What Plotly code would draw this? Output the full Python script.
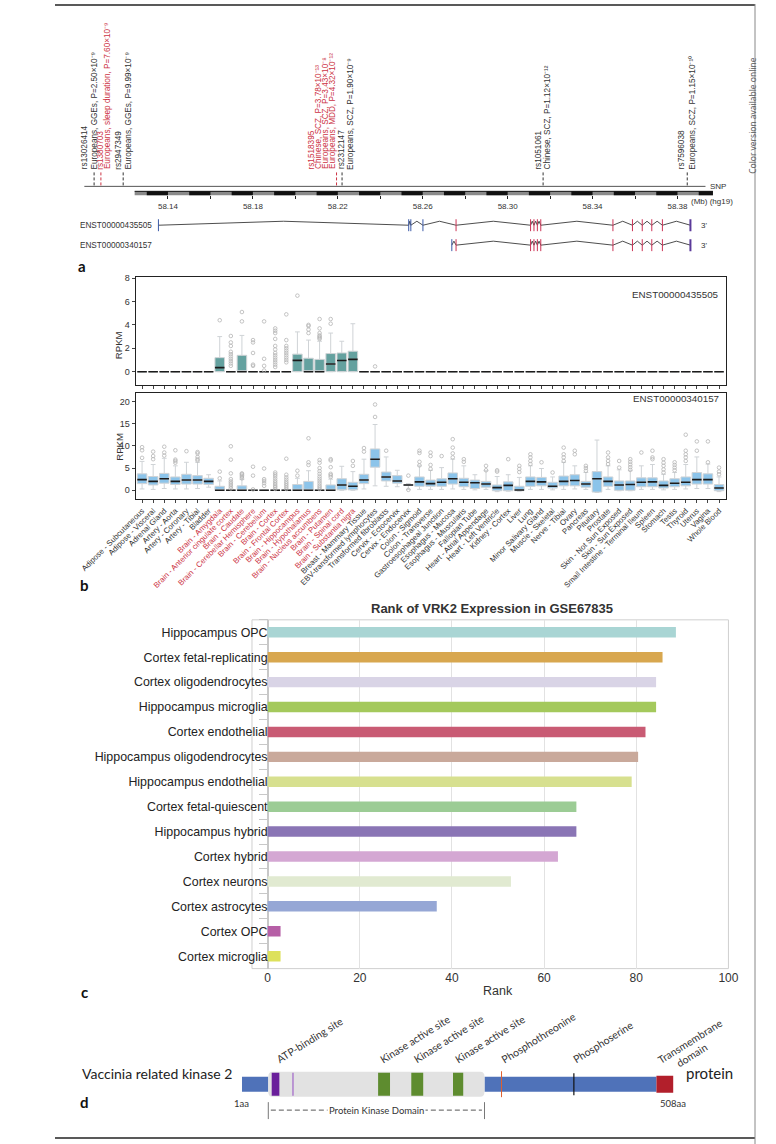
import plotly.graph_objects as go

W, H = 776, 1144


def px_x(p):
    return p / W


def px_y(p):
    return 1 - p / H


RED = "#cc3344"
DARK = "#333333"

# ======================= Panel a data =======================
snp_ids = ["rs13026414", "rs1380703", "rs2947349", "rs1518395", "rs2312147", "rs1051061", "rs7596038"]
snp_mb = [58.1052, 58.1084, 58.1189, 58.2194, 58.2220, 58.3167, 58.3846]
snp_assoc = [
    ["Europeans, GGEs, P=2.50×10⁻⁹"],
    ["Europeans, sleep duration, P=7.60×10⁻⁹"],
    ["Europeans, GGEs, P=9.99×10⁻⁹"],
    ["Chinese, SCZ, P=3.78×10⁻¹³", "Europeans, SCZ, P=3.43×10⁻⁸", "Europeans, MDD, P=4.32×10⁻¹²"],
    ["Europeans, SCZ, P=1.90×10⁻⁹"],
    ["Chinese, SCZ, P=1.12×10⁻¹²"],
    ["Europeans, SCZ, P=1.15×10⁻¹⁰"],
]
snp_is_red = [False, True, False, True, False, False, False]

mb_tick_vals = [58.14, 58.18, 58.22, 58.26, 58.30, 58.34, 58.38]
mb_tick_text = ["58.14", "58.18", "58.22", "58.26", "58.30", "58.34", "58.38"]
mb_minor_ticks = [58.16, 58.20, 58.24, 58.28, 58.32, 58.36]
ruler_mb = [58.1243, 58.3967]
snp_track_mb = [58.1006, 58.3932]

tx_names = ["ENST00000435505", "ENST00000340157"]
tx1_exon_mb = [58.1355, 58.2534, 58.2544, 58.2601, 58.2757, 58.3108, 58.3124, 58.3140, 58.3156,
               58.3496, 58.3588, 58.3634, 58.3679, 58.3729, 58.3861]
tx1_exon_kind = ["utr", "utr", "utr", "utr", "cds", "cds", "cds", "cds", "cds",
                 "cds", "cds", "cds", "cds", "cds", "end"]
tx2_exon_mb = [58.2737, 58.2757, 58.3108, 58.3124, 58.3140, 58.3156,
               58.3496, 58.3588, 58.3634, 58.3679, 58.3729, 58.3861]
tx2_exon_kind = ["utr", "cds", "cds", "cds", "cds", "cds",
                 "cds", "cds", "cds", "cds", "cds", "end"]

# ======================= Panel b data =======================
tissues = [
    "Adipose - Subcutaneous", "Adipose - Visceral", "Adrenal Gland", "Artery - Aorta", "Artery - Coronary",
    "Artery - Tibial", "Bladder", "Brain - Amygdala", "Brain - Anterior cingulate cortex", "Brain - Caudate",
    "Brain - Cerebellar Hemisphere", "Brain - Cerebellum", "Brain - Cortex", "Brain - Frontal Cortex",
    "Brain - Hippocampus", "Brain - Hypothalamus", "Brain - Nucleus accumbens", "Brain - Putamen",
    "Brain - Spinal cord", "Brain - Substantia nigra", "Breast - Mammary Tissue", "EBV-transformed lymphocytes",
    "Transformed fibroblasts", "Cervix - Ectocervix", "Cervix - Endocervix", "Colon - Sigmoid",
    "Colon - Transverse", "Gastroesophageal Junction", "Esophagus - Mucosa", "Esophagus - Muscularis",
    "Fallopian Tube", "Heart - Atrial Appendage", "Heart - Left Ventricle", "Kidney - Cortex", "Liver", "Lung",
    "Minor Salivary Gland", "Muscle - Skeletal", "Nerve - Tibial", "Ovary", "Pancreas", "Pituitary", "Prostate",
    "Skin - Not Sun Exposed", "Skin - Sun Exposed", "Small Intestine - Terminal Ileum", "Spleen", "Stomach",
    "Testis", "Thyroid", "Uterus", "Vagina", "Whole Blood",
]

# ENST00000435505 (top)
top_q1 = [0, 0, 0, 0, 0, 0, 0, 0, 0, 0, 0, 0, 0, 0, 0, 0, 0, 0, 0, 0, 0, 0, 0, 0, 0, 0, 0,
          0, 0, 0, 0, 0, 0, 0, 0, 0, 0, 0, 0, 0, 0, 0, 0, 0, 0, 0, 0, 0, 0, 0, 0, 0, 0]
top_med = [0, 0, 0, 0, 0, 0, 0, 0.35, 0, 0, 0, 0, 0, 0, 0.97, 0, 0, 0.65, 0.95, 1.05, 0, 0, 0, 0, 0, 0, 0,
           0, 0, 0, 0, 0, 0, 0, 0, 0, 0, 0, 0, 0, 0, 0, 0, 0, 0, 0, 0, 0, 0, 0, 0, 0, 0]
top_q3 = [0, 0, 0, 0, 0, 0, 0, 1.2, 0, 1.4, 0, 0, 0, 0, 1.5, 1.15, 1.05, 1.55, 1.6, 1.75, 0, 0, 0, 0, 0, 0, 0,
          0, 0, 0, 0, 0, 0, 0, 0, 0, 0, 0, 0, 0, 0, 0, 0, 0, 0, 0, 0, 0, 0, 0, 0, 0, 0]
top_lo = [0, 0, 0, 0, 0, 0, 0, 0, 0, 0, 0, 0, 0, 0, 0, 0, 0, 0, 0, 0, 0, 0, 0, 0, 0, 0, 0,
          0, 0, 0, 0, 0, 0, 0, 0, 0, 0, 0, 0, 0, 0, 0, 0, 0, 0, 0, 0, 0, 0, 0, 0, 0, 0]
top_hi = [0, 0, 0, 0, 0, 0, 0, 3.0, 0, 3.1, 0, 0, 0, 0, 3.4, 2.7, 2.6, 3.3, 2.6, 4.1, 0, 0, 0, 0, 0, 0, 0,
          0, 0, 0, 0, 0, 0, 0, 0, 0, 0, 0, 0, 0, 0, 0, 0, 0, 0, 0, 0, 0, 0, 0, 0, 0, 0]
top_out = [[], [], [], [], [], [], [], [4.4],
           [0.5, 0.7, 0.9, 1.1, 1.3, 1.5, 1.7, 2.2, 2.5, 3.05],
           [4.3, 5.1], [0.5, 0.6, 1.6, 2.5, 2.7], [0.1, 0.5, 1.1, 4.3],
           [0.4, 0.6, 0.8, 1.0, 1.2, 1.4, 1.6, 1.9, 2.2, 2.8, 3.3, 3.5, 3.7],
           [0.8, 1.0, 1.2, 1.4, 1.6, 1.8, 2.0, 2.2, 2.7, 4.9],
           [6.5], [3.3, 3.6, 3.9, 4.0], [2.8, 2.9, 3.0, 3.1, 3.3, 3.7, 4.5], [4.1, 4.5], [], [], [], [0.45],
           [], [], [], [], [], [], [], [], [], [], [], [], [], [], [], [], [], [], [], [], [], [], [], [], [],
           [], [], [], [], [], []]

# ENST00000340157 (bottom)
bot_q1 = [1.5, 1.2, 1.6, 1.3, 1.4, 1.4, 1.3, 0, 0, 0, 0, 0, 0, 0, 0, 0, 0, 0, 0.1, 0.1, 1.5, 5.2, 2.1, 1.6, 1.1,
          0.9, 0.9, 0.9, 1.4, 0.8, 0.4, 0.7, -0.1, -0.1, -0.1, 0.9, 1.0, 0.5, 1.0, 1.0, 0.7, -0.4, 0.9, 0.0,
          0.0, 0.8, 0.8, 0.5, 0.8, 1.0, 1.4, 1.4, -0.1]
bot_med = [2.4, 2.0, 2.6, 2.0, 2.3, 2.3, 2.0, 0, 0, 0, 0, 0, 0, 0, 0, 0, 0, 0, 1.2, 0.9, 2.3, 7.0, 3.0, 2.1, 1.2,
           1.9, 1.5, 1.8, 2.6, 1.8, 1.7, 1.4, 0.6, 1.1, 0.05, 2.0, 1.9, 0.9, 2.0, 2.2, 1.4, 2.6, 2.0, 1.2,
           1.3, 1.8, 1.9, 1.1, 1.6, 1.8, 2.4, 2.4, 0.5]
bot_q3 = [3.7, 3.1, 3.8, 3.0, 3.6, 3.3, 2.7, 0.9, 0.05, 1.0, 0, 0, 0.05, 0.05, 1.3, 2.0, 0, 1.2, 2.6, 1.8, 3.6,
          9.3, 4.1, 3.3, 1.3, 3.0, 2.3, 2.6, 3.9, 2.7, 2.3, 2.0, 1.2, 1.9, 0.9, 3.0, 2.9, 1.8, 3.2, 3.5, 2.0,
          4.2, 3.0, 2.1, 2.1, 2.8, 2.8, 2.1, 2.6, 3.0, 4.0, 3.7, 1.3]
bot_lo = [0.3, 0.2, 0.4, 0.3, 0.3, 0.4, 0.7, 0, 0, 0, 0, 0, 0, 0, 0, 0, 0, 0, 0, 0, 0.3, 1.0, 0.9, 0.8, 0.2,
          0.2, 0.2, 0.2, 0.3, 0.2, 0.1, 0.2, -0.3, -0.2, -0.2, 0.2, 0.2, 0.1, 0.2, 0.3, 0.2, -0.5, 0.2, -0.1,
          -0.1, 0.2, 0.2, 0.1, 0.2, 0.3, 0.4, 0.4, -0.3]
bot_hi = [6.5, 5.8, 7.2, 5.5, 6.3, 6.3, 3.5, 2.1, 0.1, 2.4, 0, 0, 0.1, 0.1, 2.7, 4.4, 0, 2.5, 5.4, 4.2, 7.0,
          14.8, 7.5, 4.5, 1.5, 5.5, 4.5, 5.1, 7.0, 5.5, 3.5, 4.4, 3.1, 3.5, 2.9, 5.5, 4.9, 3.0, 6.3, 5.5, 4.0,
          11.3, 5.5, 4.6, 4.4, 5.5, 5.8, 3.6, 4.0, 5.8, 7.5, 5.9, 3.0]
bot_out = [[7.3, 9.0, 9.7], [7.0, 7.7, 8.7], [7.8, 8.5, 9.8], [6.2, 6.6, 6.9, 9.0], [8.8],
           [6.7, 7.0, 7.5, 8.3, 8.6], [], [2.7, 4.2], [0.4, 0.8, 1.2, 1.6, 2.0, 2.5, 3.8, 6.9, 9.9],
           [2.7, 3.0, 3.3, 3.6, 3.8], [0.2, 3.3, 5.3], [1.0, 1.6, 2.1, 2.5, 4.9],
           [0.3, 0.7, 1.0, 1.4, 1.8, 2.2, 2.7, 3.2, 3.6, 4.0], [0.3, 0.7, 1.1, 1.5, 1.9, 2.4, 2.9, 3.5, 7.1],
           [3.3, 4.4], [5.7, 6.3, 11.7], [0.3, 0.7, 1.1, 1.6, 2.1, 2.6, 3.1, 3.7, 4.3, 5.0, 6.2, 6.8],
           [3.0, 3.4, 3.7, 5.2, 6.7, 7.0], [], [5.5, 6.6], [8.7, 9.5], [16.5, 19.3], [8.9], [], [0.1, 3.3],
           [5.6, 6.4, 8.4, 8.9], [4.8, 5.7, 7.7, 8.5], [7.7], [7.4, 8.3, 9.6, 11.5], [6.4, 7.0], [],
           [4.5, 5.5], [4.2, 4.5], [7.0], [4.1, 4.8, 5.5], [5.9, 6.6, 7.4, 8.1], [6.3], [4.0],
           [6.6, 7.4, 8.1, 9.6], [8.1, 8.9], [4.4, 5.0, 5.5], [], [5.9, 6.6, 7.4, 8.5], [5.1, 6.6],
           [4.6, 5.2, 5.8, 6.4, 7.0], [8.5], [7.0, 7.4, 8.9], [4.0, 4.7, 5.5, 6.2, 7.0], [4.5, 5.1, 5.7, 6.3],
           [6.6, 7.4, 8.1, 8.9, 12.5], [8.9, 11.0], [6.3, 11.0], [3.6, 4.2, 5.1]]

# ======================= Panel c data =======================
cell_types = ["Hippocampus OPC", "Cortex fetal-replicating", "Cortex oligodendrocytes", "Hippocampus microglia",
              "Cortex endothelial", "Hippocampus oligodendrocytes", "Hippocampus endothelial",
              "Cortex fetal-quiescent", "Hippocampus hybrid", "Cortex hybrid", "Cortex neurons",
              "Cortex astrocytes", "Cortex OPC", "Cortex microglia"]
rank_values = [88.6, 85.7, 84.3, 84.3, 82.0, 80.4, 79.0, 67.0, 67.0, 63.0, 52.8, 36.7, 2.8, 2.8]
bar_colors = ["#a9d5d4", "#d8a74f", "#d9d4e6", "#a4c95c", "#c95b74", "#c9a99b", "#d7e08f",
              "#9ccc95", "#8a75b5", "#d4a7d3", "#e1ead1", "#96a7d5", "#b65fa6", "#dde15b"]
rank_ticks = [0, 20, 40, 60, 80, 100]

# ======================= Panel d data =======================
protein_length = 508
kinase_domain_aa = [32, 286]
atp_site_aa = [36, 45]
atp_line_aa = 61
active_site_start_aa = [161, 200, 249]
active_site_end_aa = [175, 214, 261]
phospho_thr_aa = 306
phospho_ser_aa = 391
transmembrane_aa = [488, 508]
feature_labels = ["ATP-binding site", "Kinase active site", "Kinase active site", "Kinase active site",
                  "Phosphothreonine", "Phosphoserine", "Transmembrane"]
feature_label_aa = [36, 158, 197, 246, 300, 384, 484]

# ======================= figure =======================
fig = go.Figure()

# ---------- Panel a ----------
Y_TEXT_BOTTOM, Y_SNP, Y_RULER = 167, 183, 190
Y_TX = [222, 242]
EXON_COL = {"utr": "#3b5aa8", "cds": "#cc3355", "end": "#5b3a9a"}

fig.add_trace(go.Scatter(x=snp_track_mb, y=[Y_SNP, Y_SNP], mode="lines", line=dict(color="#555", width=1),
                         xaxis="x", yaxis="y", hoverinfo="skip"))
fig.add_trace(go.Scatter(x=ruler_mb, y=[Y_RULER, Y_RULER], mode="lines", line=dict(color="#8a8a8a", width=4),
                         xaxis="x", yaxis="y", hoverinfo="skip"))
seg_x, seg_y = [], []
k = int(round(ruler_mb[0] * 100))
while k / 100 < ruler_mb[1]:
    if k % 2 == 1:
        a = max(k / 100, ruler_mb[0])
        b = min((k + 1) / 100, ruler_mb[1])
        seg_x += [a, b, None]
        seg_y += [Y_RULER, Y_RULER, None]
    k += 1
fig.add_trace(go.Scatter(x=seg_x, y=seg_y, mode="lines", line=dict(color="#111", width=4),
                         xaxis="x", yaxis="y", hoverinfo="skip"))
fig.add_trace(go.Scatter(x=ruler_mb, y=[Y_RULER - 2, Y_RULER - 2], mode="lines", line=dict(color="#111", width=1),
                         xaxis="x", yaxis="y", hoverinfo="skip"))

snp_col_dx = [[-9.4, 0], [0, 7.3], [-4.3, 5], [-25, -18, -11, -4], [0, 8.4], [-4.4, 4], [-5, 5]]
for i, sid in enumerate(snp_ids):
    col = RED if snp_is_red[i] else DARK
    fig.add_trace(go.Scatter(x=[snp_mb[i], snp_mb[i]], y=[Y_TEXT_BOTTOM + 2, Y_SNP], mode="lines",
                             line=dict(color=col, width=1, dash="3px,2px"), xaxis="x", yaxis="y",
                             hoverinfo="skip"))
    lines = [sid] + snp_assoc[i]
    for j, t in enumerate(lines):
        fig.add_annotation(x=snp_mb[i], y=Y_TEXT_BOTTOM, xref="x", yref="y", text=t, showarrow=False,
                           textangle=-90, xanchor="center", yanchor="bottom", xshift=snp_col_dx[i][j],
                           borderpad=0, font=dict(size=8.2, color=col))

for exons, kinds, y0 in [(tx1_exon_mb, tx1_exon_kind, Y_TX[0]), (tx2_exon_mb, tx2_exon_kind, Y_TX[1])]:
    ix, iy = [], []
    for a, b in zip(exons[:-1], exons[1:]):
        ix += [a, (a + b) / 2, b]
        iy += [y0, y0 - 4, y0]
    fig.add_trace(go.Scatter(x=ix, y=iy, mode="lines", line=dict(color="#3a3a3a", width=0.9),
                             xaxis="x", yaxis="y", hoverinfo="skip"))
    for kind in ["utr", "cds", "end"]:
        ex, ey = [], []
        for xv, kd in zip(exons, kinds):
            if kd == kind:
                ex += [xv, xv, None]
                ey += [y0 - 6, y0 + 6, None]
        if ex:
            fig.add_trace(go.Scatter(x=ex, y=ey, mode="lines",
                                     line=dict(color=EXON_COL[kind], width=2 if kind == "end" else 1),
                                     xaxis="x", yaxis="y", hoverinfo="skip"))
    fig.add_annotation(x=exons[-1], y=y0, xref="x", yref="y", text="3'", showarrow=False, xanchor="left",
                       xshift=9, font=dict(size=8, color=DARK))

for name, y0 in zip(tx_names, Y_TX):
    fig.add_annotation(x=px_x(25), y=y0, xref="paper", yref="y", text=name, showarrow=False, xanchor="left",
                       font=dict(size=8.2, color=DARK))
fig.add_annotation(x=snp_track_mb[1], y=Y_SNP, xref="x", yref="y", text="SNP", showarrow=False,
                   xanchor="left", xshift=3, font=dict(size=8, color=DARK))
fig.add_annotation(x=mb_tick_vals[-1], y=198, xref="x", yref="y", text="(Mb) (hg19)", showarrow=False,
                   xanchor="left", xshift=12, font=dict(size=8, color=DARK))

# ---------- Panel b ----------
idx = list(range(len(tissues)))
for (q1, med, q3, lo, hi, outs, xa, ya, fill) in [
    (top_q1, top_med, top_q3, top_lo, top_hi, top_out, "x2", "y2", "#64a19f"),
    (bot_q1, bot_med, bot_q3, bot_lo, bot_hi, bot_out, "x3", "y3", "#8cc4ea"),
]:
    fig.add_trace(go.Box(x=idx, q1=q1, median=med, q3=q3, lowerfence=lo, upperfence=hi, orientation="v",
                         fillcolor=fill, line=dict(color="#cfd3d6", width=1), width=0.86, whiskerwidth=0.5,
                         boxpoints=False, xaxis=xa, yaxis=ya, hoverinfo="skip"))
    fig.add_trace(go.Box(x=idx, q1=med, median=med, q3=med, lowerfence=med, upperfence=med, orientation="v",
                         fillcolor="rgba(0,0,0,0)", line=dict(color="#1b1b1b", width=1.6), width=0.86,
                         whiskerwidth=0, boxpoints=False, xaxis=xa, yaxis=ya, hoverinfo="skip"))
    ox, oy = [], []
    for i, vals in enumerate(outs):
        for v in vals:
            ox.append(i)
            oy.append(v)
    fig.add_trace(go.Scatter(x=ox, y=oy, mode="markers",
                             marker=dict(symbol="circle-open", size=3.6, color="#b5b5b5", line=dict(width=0.8)),
                             xaxis=xa, yaxis=ya, hoverinfo="skip"))

tick_text = [f'<span style="color:{RED}">{t}</span>' if t.startswith("Brain") else t for t in tissues]

fig.add_annotation(x=px_x(727), y=px_y(284), xref="paper", yref="paper", text="ENST00000435505",
                   showarrow=False, xanchor="right", font=dict(size=9.8, color=DARK))
fig.add_annotation(x=px_x(727), y=px_y(396), xref="paper", yref="paper", text="ENST00000340157",
                   showarrow=False, xanchor="right", font=dict(size=9.8, color=DARK))
for yc in [326, 444]:
    fig.add_annotation(x=px_x(62), y=px_y(yc), xref="paper", yref="paper", text="RPKM", showarrow=False,
                       textangle=-90, font=dict(size=9.6, color=DARK))

# ---------- Panel c ----------
fig.add_trace(go.Bar(x=rank_values, y=cell_types, orientation="h", marker=dict(color=bar_colors, line=dict(width=0)),
                     width=0.42, xaxis="x4", yaxis="y4", hoverinfo="skip"))
fig.add_annotation(x=px_x(477), y=px_y(607), xref="paper", yref="paper",
                   text="<b>Rank of VRK2 Expression in GSE67835</b>", showarrow=False,
                   font=dict(size=13, color="#333"))
fig.add_annotation(x=px_x(483), y=px_y(999), xref="paper", yref="paper", text="Rank", showarrow=False,
                   font=dict(size=12.5, color="#333"))

# ---------- Panel d ----------
Y_P = 1084
shapes = []


def rrect(x0, x1, y0, y1, rx, ry):
    return (f"M {x0 + rx},{y0} L {x1 - rx},{y0} Q {x1},{y0} {x1},{y0 + ry} L {x1},{y1 - ry} "
            f"Q {x1},{y1} {x1 - rx},{y1} L {x0 + rx},{y1} Q {x0},{y1} {x0},{y1 - ry} "
            f"L {x0},{y0 + ry} Q {x0},{y0} {x0 + rx},{y0} Z")


shapes.append(dict(type="rect", xref="x5", yref="y5", x0=1, x1=kinase_domain_aa[0], y0=Y_P - 7.5, y1=Y_P + 7.5,
                   fillcolor="#4f72b9", line=dict(width=0)))
shapes.append(dict(type="rect", xref="x5", yref="y5", x0=kinase_domain_aa[1], x1=transmembrane_aa[0],
                   y0=Y_P - 7.5, y1=Y_P + 7.5, fillcolor="#4f72b9", line=dict(width=0)))
shapes.append(dict(type="path", xref="x5", yref="y5",
                   path=rrect(kinase_domain_aa[0], kinase_domain_aa[1], Y_P - 12.5, Y_P + 12.5, 5, 5),
                   fillcolor="#e2e2e2", line=dict(width=0)))
shapes.append(dict(type="rect", xref="x5", yref="y5", x0=atp_site_aa[0], x1=atp_site_aa[1], y0=Y_P - 11.5,
                   y1=Y_P + 11.5, fillcolor="#6a1f9b", line=dict(width=0)))
shapes.append(dict(type="line", xref="x5", yref="y5", x0=atp_line_aa, x1=atp_line_aa, y0=Y_P - 11.5,
                   y1=Y_P + 11.5, line=dict(color="#a064c8", width=1.2)))
for a, b in zip(active_site_start_aa, active_site_end_aa):
    shapes.append(dict(type="rect", xref="x5", yref="y5", x0=a, x1=b, y0=Y_P - 11.5, y1=Y_P + 11.5,
                       fillcolor="#5e8c2f", line=dict(width=0)))
shapes.append(dict(type="line", xref="x5", yref="y5", x0=phospho_thr_aa, x1=phospho_thr_aa, y0=Y_P - 13,
                   y1=Y_P + 13, line=dict(color="#e0602e", width=1)))
shapes.append(dict(type="line", xref="x5", yref="y5", x0=phospho_ser_aa, x1=phospho_ser_aa, y0=Y_P - 11,
                   y1=Y_P + 11, line=dict(color="#111", width=1.2)))
shapes.append(dict(type="rect", xref="x5", yref="y5", x0=transmembrane_aa[0], x1=transmembrane_aa[1],
                   y0=Y_P - 8.5, y1=Y_P + 8.5, fillcolor="#b21f2b", line=dict(width=0)))
for xv in kinase_domain_aa:
    shapes.append(dict(type="line", xref="x5", yref="y5", x0=xv, x1=xv, y0=1102, y1=1119,
                       line=dict(color="#555", width=0.8)))
shapes.append(dict(type="line", xref="x5", yref="y5", x0=kinase_domain_aa[0] + 3, x1=kinase_domain_aa[1] - 3,
                   y0=1110, y1=1110, line=dict(color="#444", width=0.9, dash="5px,3px")))

fig.add_annotation(x=sum(kinase_domain_aa) / 2, y=1110, xref="x5", yref="y5", text="Protein Kinase Domain",
                   showarrow=False, bgcolor="white", borderpad=1, font=dict(family="Lato", size=9.5, color="#333"))
for t, a in zip(feature_labels, feature_label_aa):
    fig.add_annotation(x=a, y=1068, xref="x5", yref="y5", text=t, showarrow=False, textangle=-32,
                       xanchor="left", yanchor="bottom", font=dict(family="Lato", size=10.5, color="#333"))
fig.add_annotation(x=transmembrane_aa[0] + 18, y=1072, xref="x5", yref="y5", text="domain", showarrow=False,
                   textangle=-32, xanchor="left", yanchor="bottom",
                   font=dict(family="Lato", size=10.5, color="#333"))
fig.add_annotation(x=1, y=1103, xref="x5", yref="y5", text="1aa", showarrow=False, yanchor="middle",
                   font=dict(family="Lato", size=9.5, color="#333"))
fig.add_annotation(x=protein_length, y=1103, xref="x5", yref="y5", text=f"{protein_length}aa", showarrow=False,
                   yanchor="middle", font=dict(family="Lato", size=9.5, color="#333"))
fig.add_annotation(x=px_x(195), y=px_y(Y_P), xref="paper", yref="paper", text="Vaccinia related kinase 2",
                   showarrow=False, xanchor="right", font=dict(family="Lato", size=14, color="#222"))
fig.add_annotation(x=px_x(686), y=px_y(Y_P), xref="paper", yref="paper", text="protein",
                   showarrow=False, xanchor="left", font=dict(family="Lato", size=15, color="#222"))

# ---------- Panel c frame ----------
shapes.append(dict(type="rect", xref="x4 domain", yref="y4 domain", x0=0, x1=1, y0=0, y1=1,
                   line=dict(color="#cfcfcf", width=1), fillcolor="rgba(0,0,0,0)", layer="below"))

# ---------- page borders ----------
shapes.append(dict(type="line", xref="paper", yref="paper", x0=0, x1=px_x(764), y0=px_y(1), y1=px_y(1),
                   line=dict(color="#222", width=1.5)))
shapes.append(dict(type="line", xref="paper", yref="paper", x0=0, x1=px_x(764), y0=px_y(1138), y1=px_y(1138),
                   line=dict(color="#222", width=1.5)))
shapes.append(dict(type="line", xref="paper", yref="paper", x0=px_x(764), x1=px_x(764), y0=0, y1=1,
                   line=dict(color="#888", width=1)))

for letter, (lx, ly) in zip("abcd", [(30, 252), (32, 583), (32, 1003), (32, 1113)]):
    fig.add_annotation(x=px_x(lx), y=px_y(ly), xref="paper", yref="paper", text=f"<b>{letter}</b>",
                       showarrow=False, xanchor="center", font=dict(family="Lato", size=15, color="#111"))
fig.add_annotation(x=px_x(770), y=px_y(52), xref="paper", yref="paper", text="Color version available online",
                   showarrow=False, textangle=-90, font=dict(family="Open Sans", size=8.5, color="#555"))

axis_common = dict(showgrid=False, zeroline=False)
fig.update_layout(
    width=W, height=H, margin=dict(l=0, r=0, t=0, b=0), paper_bgcolor="white", plot_bgcolor="rgba(0,0,0,0)",
    showlegend=False, font=dict(family="Liberation Sans, Arial, sans-serif", size=8, color=DARK),
    shapes=shapes,
    xaxis=dict(domain=[px_x(25), px_x(745)], range=[58.09757, 58.40832], anchor="free", position=px_y(192),
               showline=False, ticks="outside", ticklen=3, tickcolor="#222", tickvals=mb_tick_vals,
               ticktext=mb_tick_text, tickfont=dict(size=8),
               minor=dict(tickvals=mb_minor_ticks, ticks="outside", ticklen=3, tickcolor="#222", showgrid=False),
               **axis_common),
    yaxis=dict(domain=[px_y(262), 1], range=[262, 0], visible=False),
    xaxis2=dict(domain=[px_x(88), px_x(732)], range=[-0.58, 52.6], anchor="y2", showline=True, mirror=True,
                linecolor="#222", ticks="outside", ticklen=3, tickvals=idx, showticklabels=False, **axis_common),
    yaxis2=dict(domain=[px_y(382), px_y(274)], range=[-1.11, 8.09], anchor="x2", showline=True, mirror=True,
                linecolor="#222", ticks="outside", ticklen=3, tickvals=[0, 2, 4, 6, 8], tickfont=dict(size=9),
                **axis_common),
    xaxis3=dict(domain=[px_x(88), px_x(732)], range=[-0.58, 52.6], anchor="y3", showline=True, mirror=True,
                linecolor="#222", ticks="outside", ticklen=3, tickvals=idx, ticktext=tick_text, tickangle=-45,
                tickfont=dict(size=7.8, color=DARK), **axis_common),
    yaxis3=dict(domain=[px_y(497), px_y(390)], range=[-2.02, 21.97], anchor="x3", showline=True, mirror=True,
                linecolor="#222", ticks="outside", ticklen=3, tickvals=[0, 5, 10, 15, 20], tickfont=dict(size=9),
                **axis_common),
    xaxis4=dict(domain=[px_x(215), px_x(735)], range=[-3.4, 100], anchor="y4", tickvals=rank_ticks,
                showgrid=True, gridcolor="#e2e2e2", zeroline=True, zerolinecolor="#c8c8c8", showline=False,
                tickfont=dict(size=12, color="#333")),
    yaxis4=dict(domain=[px_y(968), px_y(618)], type="category", categoryorder="array", categoryarray=cell_types,
                autorange="reversed", anchor="free", position=px_x(232), showline=False, ticks="outside",
                tickson="boundaries", ticklen=9, tickcolor="#c8c8c8", showgrid=False, zeroline=False,
                tickfont=dict(size=12.4, color="#222")),
    xaxis5=dict(domain=[px_x(204), px_x(675)], range=[1, protein_length], anchor="y5", visible=False),
    yaxis5=dict(domain=[px_y(1132), px_y(1020)], range=[1132, 1020], anchor="x5", visible=False),
)

fig.write_html("out.html", config={"displayModeBar": False, "staticPlot": True},
               post_script="document.body.style.margin='0px';document.body.style.padding='0px';")
